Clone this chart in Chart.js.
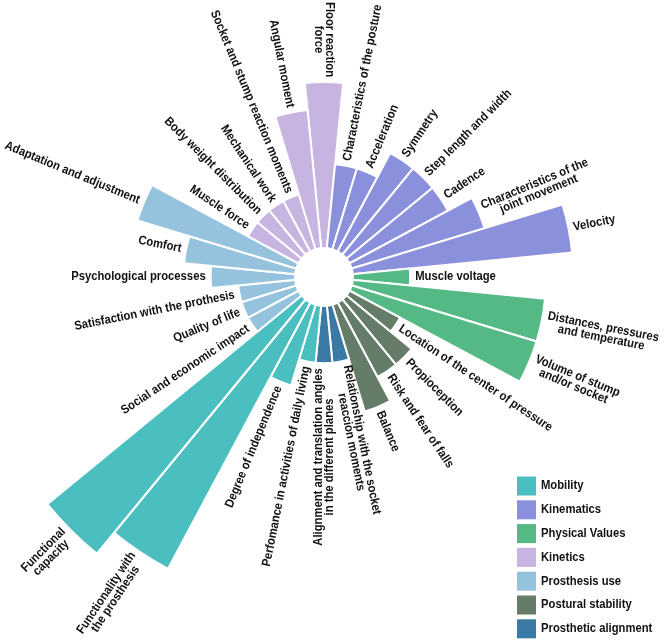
<!DOCTYPE html>
<html>
<head>
<meta charset="utf-8">
<script src="https://cdn.jsdelivr.net/npm/chart.js@4.4.0/dist/chart.umd.min.js"></script>
<style>
  html, body { margin: 0; padding: 0; background: #fff; }
  #wrap { width: 669px; height: 643px; }
</style>
</head>
<body>
<div id="wrap"><canvas id="chart" width="669" height="643"></canvas></div>
<script>
// one entry per bar, clockwise from the top
const labels = [
  "Floor reaction\nforce",
  "Characteristics of the posture",
  "Acceleration",
  "Symmetry",
  "Step length and width",
  "Cadence",
  "Characteristics of the\njoint movement",
  "Velocity",
  "Muscle voltage",
  "Distances, pressures\nand temperature",
  "Volume of stump\nand/or socket",
  "Location of the center of pressure",
  "Propioception",
  "Risk and fear of falls",
  "Balance",
  "Relationship with the socket\nreaccion moments",
  "Alignment and translation angles\nin the different planes",
  "Perfomance in activities of daily living",
  "Degree of independence",
  "Functionality with\nthe prosthesis",
  "Functional\ncapacity",
  "Social and economic impact",
  "Quality of life",
  "Satisfaction with the prothesis",
  "Psychological processes",
  "Comfort",
  "Adaptation and adjustment",
  "Muscle force",
  "Body weight distribution",
  "Mechanical work",
  "Socket and stump reaction moments",
  "Angular moment"
];
const values = [5, 2, 2, 3, 3, 3, 4, 7, 1, 6, 6, 1, 2, 2, 3, 1,
                1, 1, 2, 10, 11, 1, 1, 1, 2, 3, 5, 1, 1, 1, 1, 4];
const groups = [3, 1, 1, 1, 1, 1, 1, 1, 2, 2, 2, 5, 5, 5, 5, 6,
                6, 0, 0, 0, 0, 4, 4, 4, 4, 4, 4, 3, 3, 3, 3, 3];

const categories = ["Mobility", "Kinematics", "Physical Values", "Kinetics",
                    "Prosthesis use", "Postural stability", "Prosthetic alignment"];
const categoryColors = ["#4bbfbf", "#8a90dc", "#55b985", "#c8b4e0",
                        "#95c3dd", "#647c68", "#3b7aa4"];

const FONT = "bold 12.5px 'Liberation Sans', Arial, sans-serif";
const SQUEEZE = 0.9;

const radialLabels = {
  id: "radialLabels",
  afterDatasetsDraw(chart) {
    const scale = chart.scales.r;
    const ctx = chart.ctx;
    const cx = scale.xCenter, cy = scale.yCenter;

    // white hole in the middle
    ctx.save();
    ctx.fillStyle = "#fff";
    ctx.beginPath();
    ctx.arc(cx, cy, 30, 0, Math.PI * 2);
    ctx.fill();

    ctx.font = FONT;
    ctx.fillStyle = "#111";
    ctx.textBaseline = "middle";
    const step = 360 / labels.length;
    const start = scale.options.startAngle;
    const lh = 11;

    labels.forEach((label, i) => {
      const deg = start + (i + 0.5) * step;
      const a = deg * Math.PI / 180;
      const r = scale.getDistanceFromCenterForValue(values[i]) + 5;
      const flip = deg > 179.9 || deg < 0.1;
      const lines = label.split("\n");
      const widths = lines.map(l => ctx.measureText(l).width);
      const maxW = Math.max(...widths);

      ctx.save();
      ctx.translate(cx + r * Math.sin(a), cy - r * Math.cos(a));
      ctx.rotate((flip ? deg + 90 : deg - 90) * Math.PI / 180);
      ctx.scale(SQUEEZE, 1);
      ctx.textAlign = flip ? "right" : "left";
      lines.forEach((line, j) => {
        const off = (maxW - widths[j]) / 2;
        const y = (j - (lines.length - 1) / 2) * lh;
        ctx.fillText(line, flip ? -off : off, y);
      });
      ctx.restore();
    });
    ctx.restore();
  },
  afterDraw(chart) {
    const ctx = chart.ctx;
    ctx.save();
    ctx.font = FONT;
    ctx.textBaseline = "middle";
    ctx.textAlign = "left";
    categories.forEach((name, i) => {
      const y = 486 + i * 23.8;
      ctx.fillStyle = categoryColors[i];
      ctx.fillRect(517, y - 9.5, 19, 19);
      ctx.fillStyle = "#111";
      ctx.save();
      ctx.translate(541, y);
      ctx.scale(SQUEEZE, 1);
      ctx.fillText(name, 0, 0);
      ctx.restore();
    });
    ctx.restore();
  }
};

new Chart(document.getElementById("chart").getContext("2d"), {
  type: "polarArea",
  data: {
    labels: labels,
    datasets: [
      {
        data: values,
        backgroundColor: groups.map(g => categoryColors[g]),
        borderColor: "#ffffff",
        borderWidth: 2,
        clip: false,
      },
    ],
  },
  options: {
    responsive: false,
    animation: false,
    layout: {
      padding: { left: 47, right: 68, top: 0, bottom: 89 },
    },
    scales: {
      r: {
        min: -2.17,
        max: 8.02,
        startAngle: -5.625, // centre the first bar on the top
        grid: { display: false },
        angleLines: { display: false },
        ticks: { display: false },
        pointLabels: { display: false },
      },
    },
    plugins: {
      legend: { display: false },
      tooltip: { enabled: false },
    },
  },
  plugins: [radialLabels],
});
</script>
</body>
</html>
